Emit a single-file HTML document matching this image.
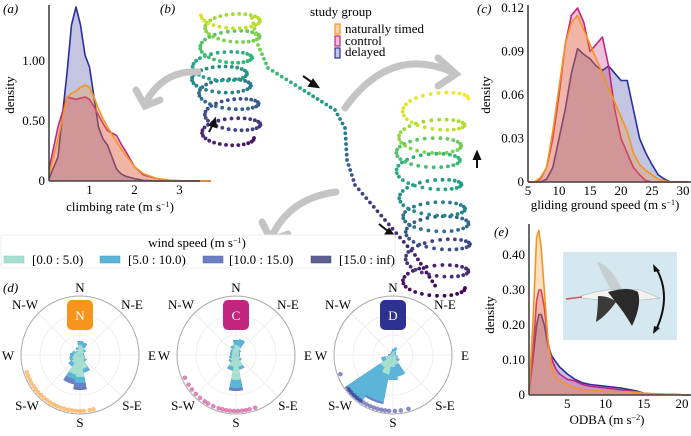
<!DOCTYPE html>
<html><head><meta charset="utf-8"><style>
body{margin:0;background:#fff}
svg, svg text{font-family:"Liberation Serif","Times New Roman",Times,"DejaVu Serif",serif}
</style></head><body>
<svg id="fig" width="691" height="431" viewBox="0 0 691 431" xmlns="http://www.w3.org/2000/svg" font-family="'Liberation Serif', 'Times New Roman', Times, serif">
<g id="traj"></g>
<g id="arrows" fill="none" stroke="#c4c4c4" stroke-width="7" stroke-linecap="round">
 <path d="M198,72 Q165,70 147,100"/>
 <path d="M136,90 L145,106 L160,100"/>
 <path d="M345,108 Q390,45 452,72"/>
 <path d="M438,58 L456,74 L438,86"/>
 <path d="M336,192 Q290,198 272,236"/>
 <path d="M262,222 L271,240 L288,234"/>
</g>
<g stroke="#111" stroke-width="2" fill="#111">
 <line x1="303" y1="76" x2="313" y2="83"/><polygon points="318,87 309,86 313,80"/>
 <line x1="209" y1="132" x2="213" y2="124"/><polygon points="215,119 216,127 210,125"/>
 <line x1="477" y1="168" x2="477" y2="158"/><polygon points="477,152 480,159 474,159"/>
 <line x1="379" y1="224" x2="389" y2="232"/><polygon points="394,236 385,235 389,229"/>
</g>
<g font-size="13">
 <text x="310" y="16">study group</text>
 <rect x="335" y="24" width="5" height="10" fill="#fbd6a8" stroke="#f7941d" stroke-width="1.2"/>
 <text x="345" y="33">naturally timed</text>
 <rect x="335" y="36" width="5" height="10" fill="#ecc0d8" stroke="#c2257e" stroke-width="1.2"/>
 <text x="345" y="45">control</text>
 <rect x="335" y="48" width="5" height="10" fill="#c3c6e6" stroke="#2a2f9a" stroke-width="1.2"/>
 <text x="345" y="56">delayed</text>
</g>
<g id="pa"></g>
<g id="pc"></g>
<g id="pe"></g>
<g font-size="13">
 <rect x="1" y="235" width="394" height="33" fill="#fff" stroke="#eee" rx="2"/>
 <text x="197" y="247" text-anchor="middle">wind speed (m s<tspan dy="-4" font-size="8">−1</tspan><tspan dy="4">)</tspan></text>
 <rect x="4" y="256" width="20" height="7" fill="#a8e0d0" stroke="#8cc" stroke-width="0.5"/><text x="32" y="264">[0.0 : 5.0)</text>
 <rect x="100" y="256" width="20" height="7" fill="#5bb5d8" stroke="#49a" stroke-width="0.5"/><text x="128" y="264">[5.0 : 10.0)</text>
 <rect x="203" y="256" width="20" height="7" fill="#6d7fc4" stroke="#56a" stroke-width="0.5"/><text x="229" y="264">[10.0 : 15.0)</text>
 <rect x="311" y="256" width="20" height="7" fill="#5e6290" stroke="#446" stroke-width="0.5"/><text x="339" y="264">[15.0 : inf)</text>
</g>
<g id="pd"></g>
<g>
 <rect x="563" y="252" width="114" height="88" fill="#d5e8f0"/>
 <path d="M597,262 Q612,266 622,290 L612,292 Q602,275 597,262Z" fill="#c7cfd2"/>
 <path d="M581,296 Q610,286 640,290 L660,298 L642,300 Q612,302 581,298Z" fill="#f2f2f2" stroke="#aaa" stroke-width="0.5"/>
 <path d="M608,292 Q628,286 638,292 Q642,305 632,326 Q624,312 614,300Z" fill="#2a2a2a"/>
 <path d="M598,296 Q610,296 616,302 Q606,316 596,322 Q598,308 598,296Z" fill="#3a3a3a"/>
 <line x1="566" y1="299" x2="582" y2="297" stroke="#c55" stroke-width="1.5"/>
 <path d="M656,268 Q672,296 656,330" fill="none" stroke="#111" stroke-width="2"/>
 <polygon points="653,264 660,271 654,272" fill="#111"/><polygon points="653,334 654,326 660,328" fill="#111"/>
</g>
<text x="3" y="13" font-style="italic" font-size="13">(a)</text>
<text x="160" y="13" font-style="italic" font-size="13">(b)</text>
<text x="477" y="13" font-style="italic" font-size="13">(c)</text>
<text x="3" y="292" font-style="italic" font-size="13">(d)</text>
<text x="494" y="236" font-style="italic" font-size="13">(e)</text>
</svg>
<script>
// ---------- Panel (a) climbing rate ----------
const aX = [0.1,0.3,0.5,0.6,0.7,0.8,0.9,1.0,1.1,1.2,1.3,1.4,1.5,1.6,1.7,1.8,2.0,2.2,2.5,2.8,3.2,3.7];
const aDelayed = [0.02,0.2,0.9,1.3,1.45,1.3,1.05,0.95,0.7,0.45,0.35,0.3,0.2,0.1,0.06,0.04,0.02,0.005,0,0,0,0];
const aNatural = [0.05,0.35,0.7,0.73,0.75,0.78,0.8,0.78,0.7,0.6,0.52,0.45,0.39,0.33,0.27,0.22,0.12,0.06,0.02,0.005,0,0];
const aControl = [0.1,0.45,0.7,0.69,0.68,0.69,0.7,0.68,0.62,0.55,0.48,0.42,0.4,0.38,0.31,0.25,0.12,0.05,0.02,0.005,0,0];
const aYTicks = [0,0.5,1.0]; const aYLabels = ["0","0.50","1.00"];
const aXTicks = [1,2,3]; const aXLabels = ["1","2","3"];
// ---------- Panel (c) gliding ground speed ----------
const cX = [5,6,7,8,9,10,11,12,13,14,15,16,17,18,19,20,21,22,23,24,25,26,27,28,30,31];
const cControl = [0,0,0.002,0.01,0.03,0.06,0.095,0.115,0.12,0.11,0.09,0.095,0.1,0.08,0.05,0.03,0.02,0.01,0.005,0.001,0,0,0,0,0,0];
const cNatural = [0,0,0.003,0.01,0.035,0.065,0.095,0.11,0.115,0.105,0.095,0.085,0.075,0.065,0.055,0.045,0.035,0.02,0.012,0.008,0.005,0.002,0.001,0,0,0];
const cDelayed = [0,0,0,0.002,0.01,0.03,0.05,0.075,0.092,0.088,0.085,0.08,0.077,0.08,0.075,0.07,0.07,0.05,0.03,0.02,0.012,0.005,0.002,0,0,0];
const cYTicks = [0,0.03,0.06,0.09,0.12]; const cYLabels = ["0","0.03","0.06","0.09","0.12"];
const cXTicks = [5,10,15,20,25,30]; const cXLabels = ["5","10","15","20","25","30"];
// ---------- Panel (e) ODBA ----------
const eX = [0,0.5,1,1.3,1.6,2,2.5,3,3.5,4,5,6,7,8,10,12,14,15,16,18,21];
const eNatural = [0.01,0.2,0.45,0.47,0.42,0.3,0.15,0.08,0.05,0.04,0.03,0.02,0.015,0.015,0.01,0.01,0.008,0.005,0.004,0.002,0];
const eControl = [0.01,0.12,0.27,0.3,0.3,0.25,0.15,0.1,0.075,0.06,0.045,0.04,0.03,0.025,0.02,0.015,0.01,0.005,0.003,0.002,0];
const eDelayed = [0.01,0.1,0.2,0.23,0.23,0.2,0.14,0.11,0.095,0.08,0.06,0.045,0.035,0.03,0.025,0.02,0.012,0.005,0.003,0.002,0];
const eYTicks = [0,0.1,0.2,0.3,0.4]; const eYLabels = ["0","0.10","0.20","0.30","0.40"];
const eXTicks = [5,10,15,20]; const eXLabels = ["5","10","15","20"];
// ---------- Panel (d) wind roses: 16 bins from N clockwise, cumulative per speed class ----------
const roseBins = ["N","NNE","NE","ENE","E","ESE","SE","SSE","S","SSW","SW","WSW","W","WNW","NW","NNW"];
const roseN = [[10,14,14,14],[8,13,13,13],[5,7,7,7],[3,4,4,4],[3,4,4,4],[4,5,5,5],[6,8,8,8],[14,18,18,18],[22,28,34,35],[20,25,30,30],[10,14,14,14],[8,11,11,11],[6,10,10,10],[5,8,8,8],[4,5,5,5],[6,8,8,8]];
const roseC = [[10,15,15,15],[9,16,16,16],[4,6,6,6],[3,4,4,4],[3,4,4,4],[3,4,4,4],[5,7,7,7],[12,15,15,15],[25,33,36,36],[12,16,16,16],[7,9,9,9],[5,7,7,7],[4,6,6,6],[4,6,6,6],[5,7,7,7],[7,10,10,10]];
const roseD = [[3,6,6,6],[4,8,8,8],[2,4,4,4],[2,3,3,3],[2,3,3,3],[3,5,5,5],[5,8,8,8],[10,22,22,22],[12,25,25,25],[20,48,50,50],[15,55,58,58],[8,12,12,12],[3,5,5,5],[2,3,3,3],[2,3,3,3],[2,4,4,4]];
const rimN = [252,248,244,240,236,232,228,224,220,216,212,208,204,200,196,192,188,184,180,176,170,166];
const rimC = [246,238,232,226,220,214,210,204,198,194,190,186,182,178,174,170,166,160];
const rimD = [250,232,228,224,220,216,212,208,204,200,196,192,188,184,178,172,164];

const NS="http://www.w3.org/2000/svg";
function mk(parent,tag,attrs){const e=document.createElementNS(NS,tag);for(const k in attrs)e.setAttribute(k,attrs[k]);parent.appendChild(e);return e;}
const COL={nat:"#f7941d",ctl:"#c2257e",del:"#2a2f9a"};

function densityPanel(gid,X,series,cfg){
  const g=document.getElementById(gid);
  const sx=v=>cfg.x0+(v-cfg.xmin)*cfg.kx, sy=v=>cfg.y0-v*cfg.ky;
  series.forEach(s=>{
    let d="M"+sx(X[0])+","+sy(0);
    X.forEach((x,i)=>{d+=" L"+sx(x).toFixed(1)+","+sy(s.v[i]).toFixed(1);});
    d+=" L"+sx(X[X.length-1])+","+sy(0)+"Z";
    const f=mk(g,"path",{d:d,fill:s.c,"fill-opacity":"0.28",stroke:"none"});
    
    
    let l="";X.forEach((x,i)=>{l+=(i?" L":"M")+sx(x).toFixed(1)+","+sy(s.v[i]).toFixed(1);});
    const p=mk(g,"path",{d:l,fill:"none",stroke:s.c,"stroke-width":"1.6","stroke-linejoin":"round"});
    
    
  });
  const ya=mk(g,"line",{x1:cfg.x0,y1:cfg.ytop,x2:cfg.x0,y2:cfg.y0,stroke:"#444","stroke-width":"1.6"});
  
  
  const xa=mk(g,"line",{x1:cfg.x0,y1:cfg.y0,x2:cfg.xend,y2:cfg.y0,stroke:"#444","stroke-width":"1.6"});
  
  
  cfg.yt.forEach((v,i)=>{const t=mk(g,"text",{x:cfg.x0-4,y:sy(v)+4,"text-anchor":"end","font-size":"13"});t.textContent=cfg.yl[i];
    
    });
  cfg.xt.forEach((v,i)=>{const t=mk(g,"text",{x:sx(v),y:cfg.y0+13,"text-anchor":"middle","font-size":"13"});t.textContent=cfg.xl[i];
    
    });
  const yt=mk(g,"text",{transform:`translate(${cfg.ylx},${cfg.yly}) rotate(-90)`,"text-anchor":"middle","font-size":"13"});yt.textContent="density";
  
  
  const xt=mk(g,"text",{x:cfg.xlx,y:cfg.xly,"text-anchor":"middle","font-size":"13"});
  xt.innerHTML=cfg.xtitle;
  
  
}
densityPanel("pa",aX,[{v:aDelayed,c:COL.del,n:"delayed"},{v:aControl,c:COL.ctl,n:"control"},{v:aNatural,c:COL.nat,n:"naturally-timed"}],
 {x0:49,xmin:0.1,kx:45,y0:181,ky:120,ytop:5,xend:200,yt:aYTicks,yl:aYLabels,xt:aXTicks,xl:aXLabels,ylx:14,yly:95,xlx:120,xly:211,
  xtitle:'climbing rate (m s<tspan dy="-4" font-size="8">−1</tspan><tspan dy="4">)</tspan>'});
densityPanel("pc",cX,[{v:cDelayed,c:COL.del,n:"delayed"},{v:cControl,c:COL.ctl,n:"control"},{v:cNatural,c:COL.nat,n:"naturally-timed"}],
 {x0:528,xmin:5,kx:6.2,y0:182,ky:1450,ytop:5,xend:691,yt:cYTicks,yl:cYLabels,xt:cXTicks,xl:cXLabels,ylx:490,yly:95,xlx:605,xly:209,
  xtitle:'gliding ground speed (m s<tspan dy="-4" font-size="8">−1</tspan><tspan dy="4">)</tspan>'});
densityPanel("pe",eX,[{v:eDelayed,c:COL.del,n:"delayed"},{v:eControl,c:COL.ctl,n:"control"},{v:eNatural,c:COL.nat,n:"naturally-timed"}],
 {x0:529,xmin:0,kx:7.65,y0:395,ky:350,ytop:224,xend:691,yt:eYTicks,yl:eYLabels,xt:eXTicks,xl:eXLabels,ylx:494,yly:315,xlx:607,xly:424,
  xtitle:'ODBA (m s<tspan dy="-4" font-size="8">−2</tspan><tspan dy="4">)</tspan>'});

// ---------- wind roses ----------
const roseCols=["#a8e0d0","#5bb5d8","#6d7fc4","#5e6290"];
function rose(cx,cy,data,rim,col,letter,name){
  const g=mk(document.getElementById("pd"),"g",{});
  
  
  const R=59;
  [20,40].forEach(r=>mk(g,"circle",{cx:cx,cy:cy,r:r,fill:"none",stroke:"#ececec","stroke-width":"0.8"}));
  for(let a=0;a<360;a+=45){const t=a*Math.PI/180;mk(g,"line",{x1:cx,y1:cy,x2:cx+R*Math.sin(t),y2:cy-R*Math.cos(t),stroke:"#ececec","stroke-width":"0.8"});}
  mk(g,"circle",{cx:cx,cy:cy,r:R,fill:"none",stroke:"#aaa","stroke-width":"1"});
  const pt=(r,a)=>{const t=a*Math.PI/180;return (cx+r*Math.sin(t)).toFixed(1)+","+(cy-r*Math.cos(t)).toFixed(1);};
  for(let k=3;k>=0;k--){
    data.forEach((d,b)=>{const r=d[k];if(r<=0)return;const a0=b*22.5-11.25,a1=b*22.5+11.25;
      const w=mk(g,"path",{d:`M${cx},${cy} L${pt(r,a0)} A${r},${r} 0 0 1 ${pt(r,a1)} Z`,fill:roseCols[k],stroke:"none"});
      
      });
  }
  rim.forEach(a=>{const t=a*Math.PI/180;const c=mk(g,"circle",{cx:cx+56*Math.sin(t),cy:cy-56*Math.cos(t),r:2.3,fill:col,"fill-opacity":"0.55"});
    
    });
  const b=mk(g,"rect",{x:cx-13,y:cy-55,width:26,height:30,rx:5,fill:col});
  
  
  const bt=mk(g,"text",{x:cx,y:cy-35,"text-anchor":"middle","font-size":"13",fill:"#fff"});bt.textContent=letter;
  const labs=[["N",cx,cy-63],["S",cx,cy+72],["W",cx-72,cy+5],["E",cx+72,cy+5],["N-W",cx-55,cy-46],["N-E",cx+52,cy-46],["S-W",cx-53,cy+55],["S-E",cx+52,cy+55]];
  labs.forEach(l=>{const t=mk(g,"text",{x:l[1],y:l[2],"text-anchor":"middle","font-size":"13"});t.textContent=l[0];
    
    });
}
rose(80,355,roseN,rimN,"#f7941d","N","wind-rose-naturally-timed");
rose(236,355,roseC,rimC,"#c2257e","C","wind-rose-control");
rose(393,355,roseD,rimD,"#2e3192","D","wind-rose-delayed");

// ---------- trajectory illustration ----------
const vir=["#440154","#482878","#3e4989","#31688e","#26828e","#1f9e89","#35b779","#6ece58","#b5de2b","#fde725"];
function vc(t){t=Math.max(0,Math.min(1,t));const f=t*(vir.length-1),i=Math.min(Math.floor(f),vir.length-2),u=f-i;
  const a=vir[i],b=vir[i+1];const h=(s,o)=>parseInt(s.substr(o,2),16);
  const m=o=>Math.round(h(a,o)+(h(b,o)-h(a,o))*u);return `rgb(${m(1)},${m(3)},${m(5)})`;}
const tg=document.getElementById("traj");
function dot(x,y,t){mk(tg,"circle",{cx:x.toFixed(1),cy:y.toFixed(1),r:1.9,fill:vc(t)});}
// left helix
for(let i=0;i<=200;i++){const s=i/200;const ph=s*2*Math.PI*7.5;const y=138-124*s+10*Math.sin(ph)+3*Math.sin(s*13);const x=226+28*Math.cos(ph)+7*Math.sin(s*9);dot(x,y,0.05+0.9*s);}
// glide
const wp=[[252,18,0.9],[258,45,0.8],[268,68,0.7],[300,88,0.6],[335,110,0.5],[345,128,0.42],[347,160,0.32],[355,185,0.22],[385,220,0.14],[415,255,0.08],[438,290,0.02]];
for(let k=0;k<wp.length-1;k++){const [x0,y0,t0]=wp[k],[x1,y1,t1]=wp[k+1];const n=Math.max(2,Math.round(Math.hypot(x1-x0,y1-y0)/5.5));
  for(let j=0;j<n;j++){const u=j/n;dot(x0+(x1-x0)*u,y0+(y1-y0)*u,t0+(t1-t0)*u);}}
// right helix
for(let i=0;i<=230;i++){const s=i/230;const ph=s*2*Math.PI*9;const y=288-186*s+11*Math.sin(ph)+4*Math.sin(s*17);const x=433+32*Math.cos(ph)+5*Math.sin(s*7);dot(x,y,0.0+1.0*s);}
</script>
</body></html>
